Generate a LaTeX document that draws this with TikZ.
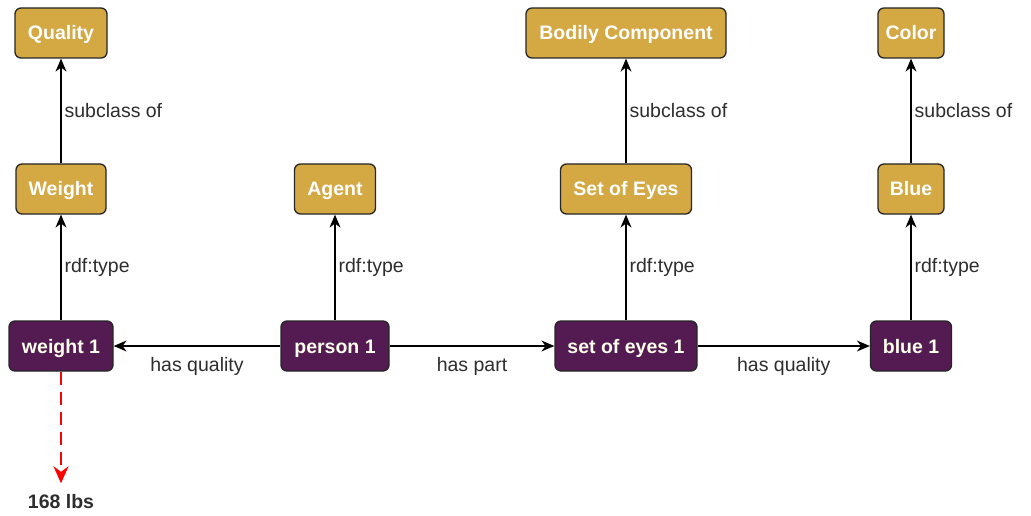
\documentclass[tikz,border=0pt]{standalone}
\usepackage{fontspec}
\setmainfont{Liberation Sans}
\usetikzlibrary{arrows.meta}

\definecolor{classgold}{RGB}{212,168,66}
\definecolor{instpurple}{RGB}{84,26,82}
\definecolor{labelgray}{RGB}{45,45,45}

\tikzset{
  cls/.style={draw=black!85, fill=classgold, rounded corners=6pt, line width=1.3pt,
    minimum height=50pt, inner xsep=6pt, text=white, text height=15pt, text depth=1pt,
    font=\fontsize{19.5}{22}\selectfont\bfseries},
  inst/.style={cls, fill=instpurple, text=white!92!yellow},
  rel/.style={-{Stealth[length=13pt,width=11pt]}, line width=1.3pt},
  lbl/.style={font=\fontsize{19.5}{22}\selectfont, text=labelgray, inner sep=3pt},
}

\begin{document}
\begin{tikzpicture}[x=1pt, y=-1pt]
  \useasboundingbox (0,0) rectangle (1031,516);

  % classes
  \node[cls, minimum width=92pt]  (quality) at (61,33)  {Quality};
  \node[cls, minimum width=200pt] (bodily)  at (626,33) {Bodily Component};
  \node[cls, minimum width=66pt]  (color)   at (911,33) {Color};
  \node[cls, minimum width=90pt]  (weight)  at (61,189)  {Weight};
  \node[cls, minimum width=81pt]  (agent)   at (335,189) {Agent};
  \node[cls, minimum width=131pt] (eyes)    at (626,189) {Set of Eyes};
  \node[cls, minimum width=66pt]  (blue)    at (911,189) {Blue};

  % instances
  \node[inst, minimum width=104pt] (weight1) at (61,346)  {weight 1};
  \node[inst, minimum width=108pt] (person1) at (335,346) {person 1};
  \node[inst, minimum width=142pt] (eyes1)   at (626,346) {set of eyes 1};
  \node[inst, minimum width=81pt]  (blue1)   at (911,346) {blue 1};

  % literal value
  \node[font=\fontsize{19.5}{22}\selectfont\bfseries, text=labelgray] (lbs) at (61,502) {168 lbs};

  % subclass links
  \draw[rel] (weight) -- node[lbl, right] {subclass of} (quality);
  \draw[rel] (eyes)   -- node[lbl, right] {subclass of} (bodily);
  \draw[rel] (blue)   -- node[lbl, right] {subclass of} (color);

  % type links
  \draw[rel] (weight1) -- node[lbl, right] {rdf:type} (weight);
  \draw[rel] (person1) -- node[lbl, right] {rdf:type} (agent);
  \draw[rel] (eyes1)   -- node[lbl, right] {rdf:type} (eyes);
  \draw[rel] (blue1)   -- node[lbl, right] {rdf:type} (blue);

  % object properties
  \draw[rel] (person1) -- node[lbl, below=8pt] {has quality} (weight1);
  \draw[rel] (person1) -- node[lbl, below=8pt] {has part} (eyes1);
  \draw[rel] (eyes1)   -- node[lbl, below=8pt] {has quality} (blue1);

  % data value
  \draw[red, line width=2.6pt, dash pattern=on 13pt off 7pt,
    -{Stealth[length=17pt,width=15pt]}, shorten >=8pt] (weight1) -- (lbs.north);
\end{tikzpicture}
\end{document}
